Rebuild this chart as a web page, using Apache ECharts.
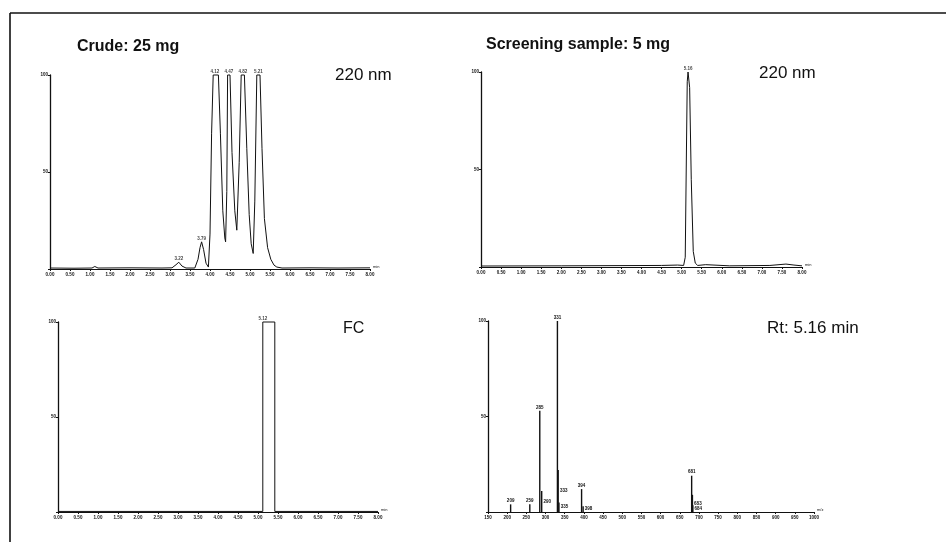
<!DOCTYPE html>
<html><head><meta charset="utf-8">
<script src="https://cdn.jsdelivr.net/npm/echarts@6/dist/echarts.min.js"></script>
<style>html,body{margin:0;padding:0;background:#fff}#c{width:948px;height:542px}</style>
</head><body><div id="c"></div>
<script>
// ---- data ----
const panelTitles = ['Crude: 25 mg', 'Screening sample: 5 mg'];
const panelNotes = ['220 nm', '220 nm', 'FC', 'Rt: 5.16 min'];

// Crude sample, UV 220 nm trace [time (min), % of full scale]
const crudeTrace = [[0,0.5],[0.6,0.4],[1.05,0.5],[1.12,1.3],[1.2,0.5],[2.0,0.6],[2.8,0.5],[3.05,0.6],[3.15,2.2],[3.22,3.5],[3.3,1.5],[3.4,0.5],[3.62,0.5],[3.7,5],[3.75,11],[3.79,14],[3.84,10],[3.9,3],[3.96,1],[4.0,18],[4.04,70],[4.08,100],[4.21,100],[4.26,70],[4.32,30],[4.37,16],[4.39,14],[4.42,40],[4.44,100],[4.5,100],[4.55,60],[4.62,30],[4.67,20],[4.69,19],[4.73,55],[4.78,100],[4.86,100],[4.92,62],[4.98,28],[5.03,13],[5.08,8],[5.12,35],[5.17,100],[5.25,100],[5.3,62],[5.36,26],[5.44,11],[5.52,5],[5.6,2],[5.67,1],[5.8,0.5],[6.5,0.6],[7.2,0.5],[8,0.6]];
const crudePeakTimes = [3.22, 3.79, 4.12, 4.47, 4.82, 5.21];
const crudePeakHeights = [3.5, 14, 100, 100, 100, 100];

// Screening sample, UV 220 nm trace
const screenTrace = [[0,0.5],[2.0,0.6],[4.5,0.8],[4.9,1.0],[5.05,0.8],[5.09,5],[5.12,60],[5.14,95],[5.16,100],[5.2,92],[5.24,45],[5.29,8],[5.34,2],[5.4,0.8],[5.6,1.2],[6.2,0.6],[7.2,0.8],[7.6,1.5],[7.8,1.0],[8,0.6]];
const screenPeakTimes = [5.16];
const screenPeakHeights = [100];

// Fraction collection (FC) trace
const fcTrace = [[0,0.3],[5.12,0.3],[5.12,100],[5.42,100],[5.42,0.3],[8,0.3]];
const fcPeakTimes = [5.12];
const fcPeakHeights = [100];

// Mass spectrum at Rt 5.16 min [m/z, relative intensity %]
const msMz  = [209, 259, 285, 290, 331, 333, 335, 394, 398, 681, 683, 684];
const msInt = [4,   4,   53,  11,  100, 22,  5,   12,  3,   19,  9,   3.5];

// axis ticks
const timeMin = 0, timeMax = 8, timeStep = 0.5;
const mzMin = 150, mzMax = 1000, mzStep = 50;
const yMin = 0, yMax = 100, yStep = 50;

// ---- chart ----
const ink = '#111';
const grids = [
  {left: 50, top: 75, width: 320, height: 194},
  {left: 481, top: 72, width: 321, height: 195},
  {left: 58, top: 322, width: 320, height: 190},
  {left: 488, top: 321, width: 326, height: 191}
];
function xAx(i, isMz) {
  return {
    type: 'value', gridIndex: i,
    min: isMz ? mzMin : timeMin, max: isMz ? mzMax : timeMax,
    interval: isMz ? mzStep : timeStep,
    name: isMz ? 'm/z' : 'min', nameLocation: 'end', nameGap: 3,
    nameTextStyle: {fontSize: 4, color: ink, verticalAlign: 'bottom'},
    axisLine: {show: true, onZero: false, lineStyle: {color: ink, width: 1.2}},
    axisTick: {show: true, length: 2, lineStyle: {color: ink}},
    axisLabel: {fontSize: 4.5, color: ink, margin: 3, fontWeight: 'bold',
      formatter: v => isMz ? String(Math.round(v)) : v.toFixed(2)},
    splitLine: {show: false}
  };
}
function yAx(i) {
  return {
    type: 'value', gridIndex: i, min: yMin, max: yMax, interval: yStep,
    axisLine: {show: true, lineStyle: {color: ink, width: 1.3}},
    axisTick: {show: true, length: 2, lineStyle: {color: ink}},
    axisLabel: {fontSize: 4.5, color: ink, margin: 2, fontWeight: 'bold',
      formatter: v => v === 0 ? '' : String(v)},
    splitLine: {show: false}
  };
}
function peakLabels(i, times, heights) {
  return {
    type: 'scatter', xAxisIndex: i, yAxisIndex: i, symbolSize: 0, silent: true,
    data: times.map((t, k) => [t, heights[k]]),
    label: {show: true, position: 'top', distance: 1, fontSize: 4.5, fontWeight: 'bold', color: ink,
      formatter: p => p.value[0].toFixed(2)},
    z: 5
  };
}
function trace(i, data) {
  return {
    type: 'line', xAxisIndex: i, yAxisIndex: i, data: data, symbol: 'none',
    lineStyle: {color: ink, width: 1}, smooth: false, silent: true, clip: false
  };
}
const msData = msMz.map((m, k) => ({
  value: [m, msInt[k]],
  label: {position: (k === 3 || k === 5 || k === 6 || k === 8 || k === 10 || k === 11) ? 'right' : 'top'}
}));

const chart = echarts.init(document.getElementById('c'), null, {renderer: 'canvas'});
chart.setOption({
  backgroundColor: '#fff',
  animation: false,
  grid: grids,
  xAxis: [xAx(0, false), xAx(1, false), xAx(2, false), xAx(3, true)],
  yAxis: [yAx(0), yAx(1), yAx(2), yAx(3)],
  series: [
    trace(0, crudeTrace), peakLabels(0, crudePeakTimes, crudePeakHeights),
    trace(1, screenTrace), peakLabels(1, screenPeakTimes, screenPeakHeights),
    trace(2, fcTrace), peakLabels(2, fcPeakTimes, fcPeakHeights),
    {
      type: 'bar', xAxisIndex: 3, yAxisIndex: 3, data: msData, barWidth: 1.4,
      itemStyle: {color: ink}, silent: true,
      label: {show: true, distance: 1, fontSize: 4.5, fontWeight: 'bold', color: ink,
        formatter: p => String(Math.round(p.value[0]))}
    }
  ],
  graphic: [
    {type: 'line', shape: {x1: 10, y1: 13, x2: 946, y2: 13}, style: {stroke: '#111', lineWidth: 1.6}, silent: true},
    {type: 'line', shape: {x1: 10, y1: 13, x2: 10, y2: 542}, style: {stroke: '#111', lineWidth: 1.6}, silent: true},
    {type: 'text', x: 77, y: 47, style: {text: panelTitles[0], font: 'bold 16px "Liberation Sans", Arial, sans-serif', fill: '#111', verticalAlign: 'middle'}},
    {type: 'text', x: 486, y: 45, style: {text: panelTitles[1], font: 'bold 16px "Liberation Sans", Arial, sans-serif', fill: '#111', verticalAlign: 'middle'}},
    {type: 'text', x: 335, y: 75, style: {text: panelNotes[0], font: '17px "Liberation Sans", Arial, sans-serif', fill: '#111', verticalAlign: 'middle'}},
    {type: 'text', x: 759, y: 73, style: {text: panelNotes[1], font: '17px "Liberation Sans", Arial, sans-serif', fill: '#111', verticalAlign: 'middle'}},
    {type: 'text', x: 343, y: 329, style: {text: panelNotes[2], font: '16px "Liberation Sans", Arial, sans-serif', fill: '#111', verticalAlign: 'middle'}},
    {type: 'text', x: 767, y: 328, style: {text: panelNotes[3], font: '17px "Liberation Sans", Arial, sans-serif', fill: '#111', verticalAlign: 'middle'}}
  ]
});
</script></body></html>
